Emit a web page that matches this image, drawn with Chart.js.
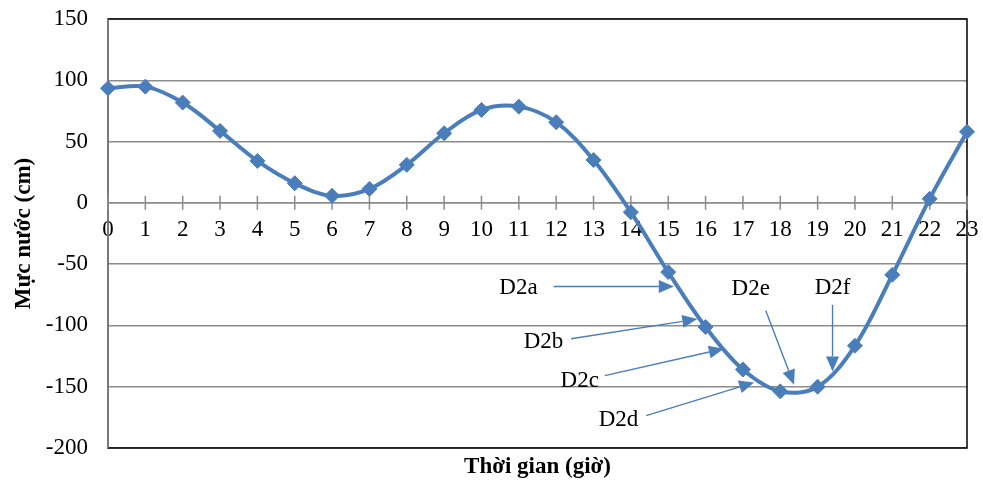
<!DOCTYPE html>
<html>
<head>
<meta charset="utf-8">
<script src="https://cdn.jsdelivr.net/npm/chart.js@4/dist/chart.umd.min.js"></script>
<style>
html,body{margin:0;padding:0;background:#fff;}
#wrap{width:983px;height:481px;}
</style>
</head>
<body>
<div id="wrap"><canvas id="c" width="983" height="481"></canvas></div>
<script>
const hours = ['0','1','2','3','4','5','6','7','8','9','10','11','12','13','14','15','16','17','18','19','20','21','22','23'];
const waterLevel = [93.5, 94.8, 81.8, 58.7, 34.2, 16, 5.7, 11.4, 31, 56.8, 75.8, 78.5, 65.8, 35, -7.6, -56.5, -101.3, -136, -153.8, -150, -116.6, -58.7, 3.3, 58];
const yTicks = [150, 100, 50, 0, -50, -100, -150, -200];
const xTitle = 'Thời gian (giờ)';
const yTitle = 'Mực nước (cm)';
// annotations in data units: label, label pos, arrow start, arrow tip
const noteLabels = ['D2a','D2b','D2c','D2d','D2e','D2f'];
const noteTextX = [10.99, 11.66, 12.63, 13.67, 17.21, 19.40];
const noteTextY = [-69.3, -113.1, -145.7, -176.9, -70.4, -69.5];
const noteFromX = [11.93, 12.40, 13.30, 14.41, 17.61, 19.40];
const noteFromY = [-68.2, -110.9, -141.0, -173.6, -87.8, -83.2];
const noteToX = [15.15, 15.78, 16.49, 17.30, 18.37, 19.40];
const noteToY = [-68.2, -94.8, -119.0, -146.5, -148.4, -137.5];

const BLUE = '#4A7EBB';
const GRID = '#8C8C8C';
const FONT = '"Liberation Serif", "Times New Roman", serif';
const FS = 23;

function valX(scale, v){
  const a = scale.getPixelForValue(Math.floor(v));
  const b = scale.getPixelForValue(Math.floor(v) + 1);
  return a + (b - a) * (v - Math.floor(v));
}

const framePlugin = {
  id: 'frame',
  beforeDatasetsDraw(chart){
    const {ctx, chartArea: ca, scales} = chart;
    ctx.save();
    ctx.strokeStyle = '#000';
    ctx.lineWidth = 1.5;
    ctx.strokeRect(ca.left, ca.top, ca.right - ca.left, ca.bottom - ca.top);
    ctx.strokeStyle = GRID;
    ctx.lineWidth = 1.5;
    ctx.beginPath();
    ctx.moveTo(ca.left, ca.top);
    ctx.lineTo(ca.left, ca.bottom);
    ctx.stroke();
    const y0 = scales.y.getPixelForValue(0);
    ctx.beginPath();
    ctx.moveTo(ca.left, y0);
    ctx.lineTo(ca.right, y0);
    scales.x.ticks.forEach((t, i) => {
      const px = scales.x.getPixelForTick(i);
      ctx.moveTo(px, y0 - 7);
      ctx.lineTo(px, y0 + 7);
    });
    ctx.stroke();
    ctx.restore();
  },
  afterDatasetsDraw(chart){
    const {ctx, chartArea: ca, scales} = chart;
    ctx.save();
    ctx.font = FS + 'px ' + FONT;
    ctx.textAlign = 'center';
    ctx.textBaseline = 'middle';
    for (let i = 0; i < noteLabels.length; i++) {
      const tx = valX(scales.x, noteTextX[i]);
      const ty = scales.y.getPixelForValue(noteTextY[i]);
      ctx.fillStyle = '#000';
      ctx.fillText(noteLabels[i], tx, ty);
      const x1 = valX(scales.x, noteFromX[i]);
      const y1 = scales.y.getPixelForValue(noteFromY[i]);
      const x2 = valX(scales.x, noteToX[i]);
      const y2 = scales.y.getPixelForValue(noteToY[i]);
      const ang = Math.atan2(y2 - y1, x2 - x1);
      const hl = 15, hw = 6.5;
      const bx = x2 - Math.cos(ang) * hl, by = y2 - Math.sin(ang) * hl;
      ctx.strokeStyle = BLUE;
      ctx.lineWidth = 1.4;
      ctx.beginPath();
      ctx.moveTo(x1, y1);
      ctx.lineTo(bx, by);
      ctx.stroke();
      ctx.fillStyle = BLUE;
      ctx.beginPath();
      ctx.moveTo(x2, y2);
      ctx.lineTo(bx + Math.sin(ang) * hw, by - Math.cos(ang) * hw);
      ctx.lineTo(bx - Math.sin(ang) * hw, by + Math.cos(ang) * hw);
      ctx.closePath();
      ctx.fill();
    }
    ctx.fillStyle = '#000';
    ctx.font = 'bold ' + FS + 'px ' + FONT;
    ctx.textAlign = 'center';
    ctx.textBaseline = 'middle';
    ctx.fillText(xTitle, (ca.left + ca.right) / 2, 467);
    ctx.restore();
  }
};

new Chart(document.getElementById('c'), {
  type: 'line',
  data: {
    labels: hours,
    datasets: [{
      data: waterLevel,
      borderColor: BLUE,
      backgroundColor: BLUE,
      borderWidth: 4,
      tension: 0.35,
      pointStyle: 'rectRot',
      pointRadius: 7.5,
      pointBorderWidth: 1,
      pointBorderColor: BLUE,
      pointBackgroundColor: BLUE,
      clip: false
    }]
  },
  options: {
    responsive: false,
    animation: false,
    events: [],
    layout: {padding: {top: 19, right: 16, bottom: 33, left: 0}},
    plugins: {legend: {display: false}, tooltip: {enabled: false}, title: {display: false}},
    scales: {
      x: {
        type: 'category',
        position: {y: 0},
        offset: false,
        afterFit(s){ s.paddingLeft = 0; s.paddingRight = 0; s.paddingTop = 0; s.paddingBottom = 0; },
        grid: {display: false, drawTicks: false},
        border: {display: false},
        ticks: {color: '#000', font: {family: FONT, size: FS}, padding: 13, maxRotation: 0, autoSkip: false}
      },
      y: {
        min: -200, max: 150,
        afterFit(s){ s.width = 108; s.paddingTop = 0; s.paddingBottom = 0; },
        afterBuildTicks(s){ s.ticks = yTicks.map(v => ({value: v})); },
        grid: {color: GRID, lineWidth: 1.5, drawTicks: false},
        border: {display: false},
        ticks: {color: '#000', font: {family: FONT, size: FS}, padding: 20},
        title: {display: true, text: yTitle, color: '#000', font: {family: FONT, size: FS, weight: 'bold'}, padding: {top: 10, bottom: 0}}
      }
    }
  },
  plugins: [framePlugin]
});
</script>
</body>
</html>
